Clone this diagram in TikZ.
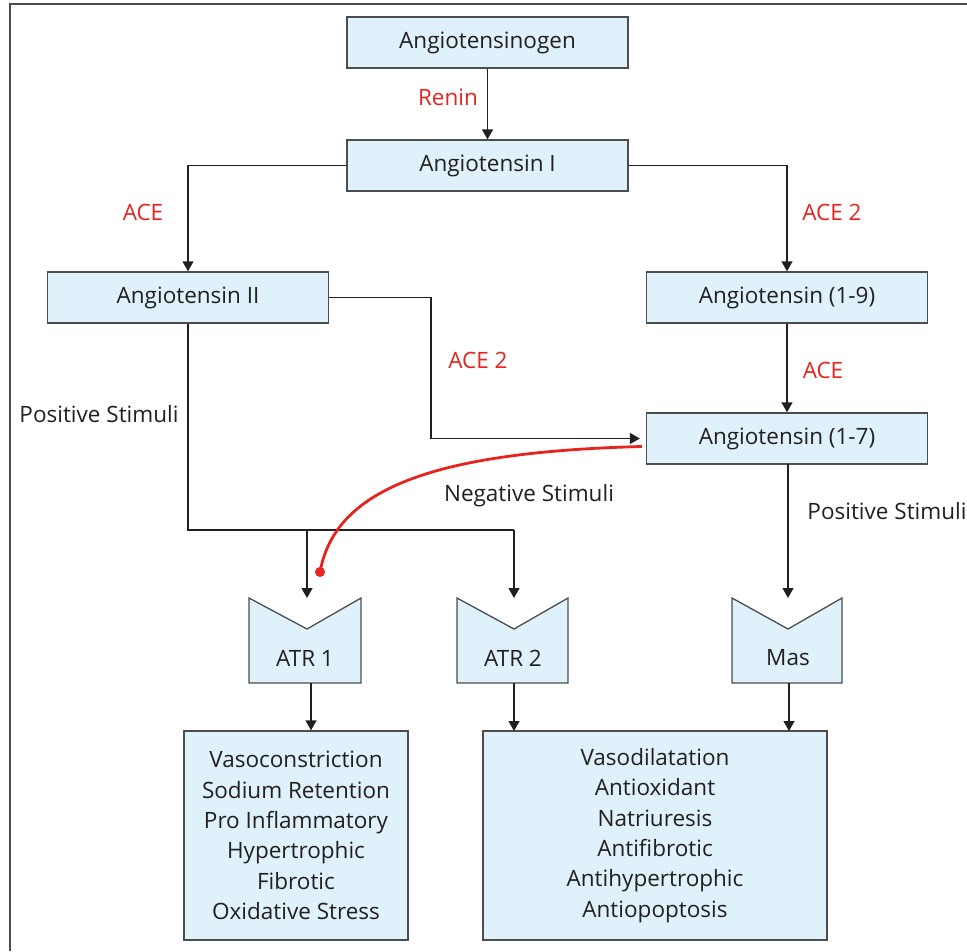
\documentclass[tikz,border=0pt]{standalone}
\usepackage{fontspec}
\setmainfont{Open Sans}
\usetikzlibrary{arrows.meta,calc}
\definecolor{boxfill}{HTML}{DFF1FA}
\definecolor{boxline}{HTML}{4D4D4D}
\definecolor{txt}{HTML}{231F20}
\definecolor{enz}{HTML}{E8231E}
\begin{document}
\begin{tikzpicture}[x=1pt,y=-1pt,
  box/.style={draw=boxline,line width=1.3pt,fill=boxfill,minimum width=281pt,minimum height=51pt,inner sep=0pt,font=\fontsize{22.5}{26}\selectfont,text=txt},
  effbox/.style={draw=boxline,line width=1.3pt,fill=boxfill,inner sep=0pt,align=center,font=\fontsize{22.5}{30.3}\selectfont,text=txt},
  conn/.style={draw=txt,line width=1.3pt},
  arr/.style={conn,-{Triangle[length=10pt,width=11pt]}},
  enzlab/.style={text=enz,font=\fontsize{22.5}{26}\selectfont},
  lab/.style={text=txt,font=\fontsize{22.5}{26}\selectfont},
  rec/.style={draw=boxline,line width=1.3pt,fill=boxfill}]
\useasboundingbox (0,0) rectangle (967,951);
\draw[line width=1.2pt,draw=boxline] (10,951) -- (10,4) -- (967,4);
% nodes
\node[box] (agt) at (487.5,42.5) {Angiotensinogen};
\node[box] (a1) at (487.5,165.5) {Angiotensin I};
\node[box] (a2) at (188,297.5) {Angiotensin II};
\node[box] (a19) at (787,297.5) {Angiotensin (1-9)};
\node[box] (a17) at (787,438.5) {Angiotensin (1-7)};
% receptors
\draw[rec] (249,598) -- (307,629) -- (361,598) -- (361,683) -- (249,683) -- cycle;
\node[lab] (atr1) at (305,658) {ATR 1};
\draw[rec] (457,598) -- (514,629) -- (568,598) -- (568,683) -- (457,683) -- cycle;
\node[lab] (atr2) at (513,658) {ATR 2};
\draw[rec] (732,598) -- (788,629) -- (842,598) -- (842,683) -- (732,683) -- cycle;
\node[lab] (mas) at (788,658) {Mas};
\coordinate (atr1top) at (307,598);
\coordinate (atr2top) at (514,598);
\coordinate (mastop) at (788,598);
\coordinate (atr1bot) at (311,683);
\coordinate (atr2bot) at (514,683);
\coordinate (masbot) at (789,683);
% effect boxes
\node[effbox,minimum width=224pt,minimum height=209pt] (eff1) at (296,835.5) {Vasoconstriction\\Sodium Retention\\Pro Inflammatory\\Hypertrophic\\Fibrotic\\Oxidative Stress};
\node[effbox,minimum width=344pt,minimum height=209pt] (eff2) at (655,835.5) {Vasodilatation\\Antioxidant\\Natriuresis\\Antifibrotic\\Antihypertrophic\\Antiopoptosis};
% connectors
\draw[arr] (agt) -- (a1);
\node[enzlab] (renin) at (448,97) {Renin};
\draw[arr] (a1.west) -| (a2.north);
\node[enzlab] (ace1) at (143,212) {ACE};
\draw[arr] (a1.east) -| (a19.north);
\node[enzlab] (ace2a) at (832,212) {ACE 2};
\draw[arr] (a19) -- (a17);
\node[enzlab] (ace1b) at (823,370) {ACE};
\draw[arr] (a2.east) -- (431,297.5) -- (431,438.5) -- ($(a17.west)+(-6,0)$);
\node[enzlab] (ace2b) at (478,360) {ACE 2};
\coordinate (split) at (188,530);
\draw[conn] (a2.south) -- (split) -- (514,530);
\draw[arr] (514,530) -- (atr2top);
\draw[arr] (307,530) -- (atr1top);
\node[lab] (pos1) at (99,414) {Positive Stimuli};
\draw[arr] (788,464) -- (mastop);
\node[lab] (pos2) at (887,511) {Positive Stimuli};
\node[lab] (neg) at (529,496) {Negative Stimuli};
\coordinate (dot) at (320,572);
\draw[draw=enz,line width=2.8pt] ($(a17.west)+(-4,8)$) .. controls (430,452) and (335,490) .. (dot);
\fill[enz] (dot) circle (5pt);
\draw[arr] (atr1bot) -- ($(eff1.north)+(15,0)$);
\draw[arr] (atr2bot) -- (514,731);
\draw[arr] (masbot) -- (789,731);
\end{tikzpicture}
\end{document}
